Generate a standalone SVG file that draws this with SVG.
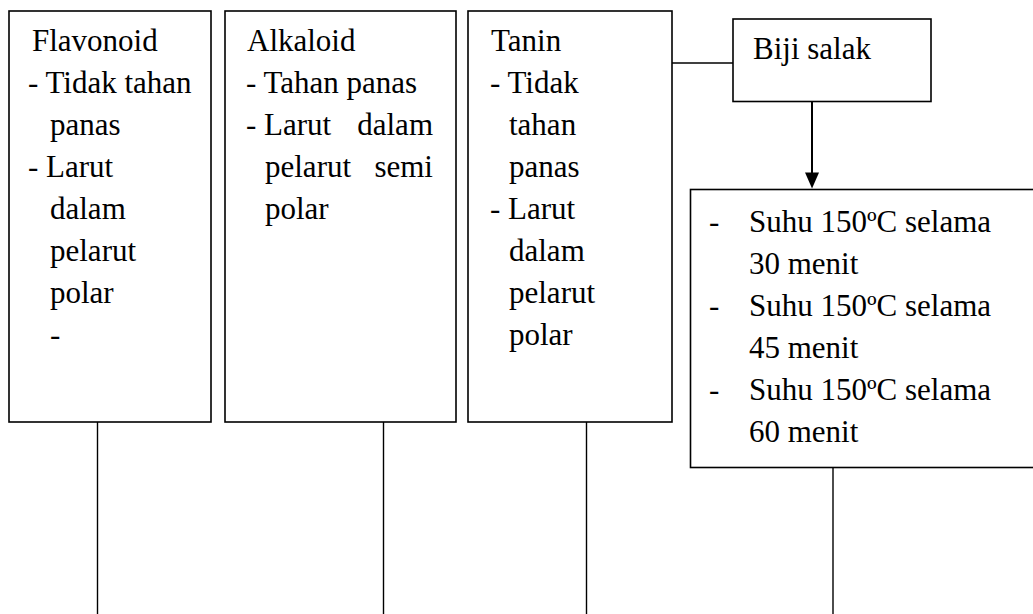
<svg xmlns="http://www.w3.org/2000/svg" width="1033" height="614" viewBox="0 0 1033 614">
<rect width="1033" height="614" fill="#fff"/>
<g id="connectors" stroke="#000" stroke-width="1.4" fill="none">
<line x1="672" y1="63" x2="733" y2="63"/>
<line x1="812" y1="102" x2="812" y2="173" stroke-width="2"/>
<path d="M805,172.5 L819,172.5 L812,188.5 Z" fill="#000" stroke="none"/>
<line x1="97.5" y1="422" x2="97.5" y2="614"/>
<line x1="383.5" y1="422" x2="383.5" y2="614"/>
<line x1="586.5" y1="422" x2="586.5" y2="614"/>
<line x1="833" y1="468" x2="833" y2="614"/>
</g>
<g id="flavonoid" font-family="Times New Roman, Tinos, Liberation Serif, serif" font-size="31">
<rect x="9" y="11" width="202" height="411" fill="#fff" stroke="#000" stroke-width="1.6"/>
<text x="32" y="51">Flavonoid</text>
<text x="28" y="93">- Tidak tahan</text>
<text x="50" y="135">panas</text>
<text x="28" y="177">- Larut</text>
<text x="50" y="219">dalam</text>
<text x="50" y="261">pelarut</text>
<text x="50" y="303">polar</text>
<text x="50" y="345">-</text>
</g>
<g id="alkaloid" font-family="Times New Roman, Tinos, Liberation Serif, serif" font-size="31">
<rect x="225" y="11" width="231" height="411" fill="#fff" stroke="#000" stroke-width="1.6"/>
<text x="247" y="51">Alkaloid</text>
<text x="246" y="93">- Tahan panas</text>
<text x="246" y="135">- Larut</text>
<text text-anchor="end" x="433" y="135">dalam</text>
<text x="265" y="177">pelarut</text>
<text text-anchor="end" x="433" y="177">semi</text>
<text x="265" y="219">polar</text>
</g>
<g id="tanin" font-family="Times New Roman, Tinos, Liberation Serif, serif" font-size="31">
<rect x="468" y="11" width="204" height="411" fill="#fff" stroke="#000" stroke-width="1.6"/>
<text x="491" y="51">Tanin</text>
<text x="490" y="93">- Tidak</text>
<text x="509" y="135">tahan</text>
<text x="509" y="177">panas</text>
<text x="490" y="219">- Larut</text>
<text x="509" y="261">dalam</text>
<text x="509" y="303">pelarut</text>
<text x="509" y="345">polar</text>
</g>
<g id="biji-salak" font-family="Times New Roman, Tinos, Liberation Serif, serif" font-size="31">
<rect x="733" y="19" width="198" height="82.5" fill="#fff" stroke="#000" stroke-width="1.6"/>
<text x="753" y="59">Biji salak</text>
</g>
<g id="perlakuan" font-family="Times New Roman, Tinos, Liberation Serif, serif" font-size="31">
<rect x="690.5" y="189.5" width="360" height="278" fill="#fff" stroke="#000" stroke-width="1.6"/>
<text x="709" y="232">-</text>
<text x="749" y="232">Suhu 150ºC selama</text>
<text x="749" y="274">30 menit</text>
<text x="709" y="316">-</text>
<text x="749" y="316">Suhu 150ºC selama</text>
<text x="749" y="358">45 menit</text>
<text x="709" y="400">-</text>
<text x="749" y="400">Suhu 150ºC selama</text>
<text x="749" y="442">60 menit</text>
</g>
</svg>
